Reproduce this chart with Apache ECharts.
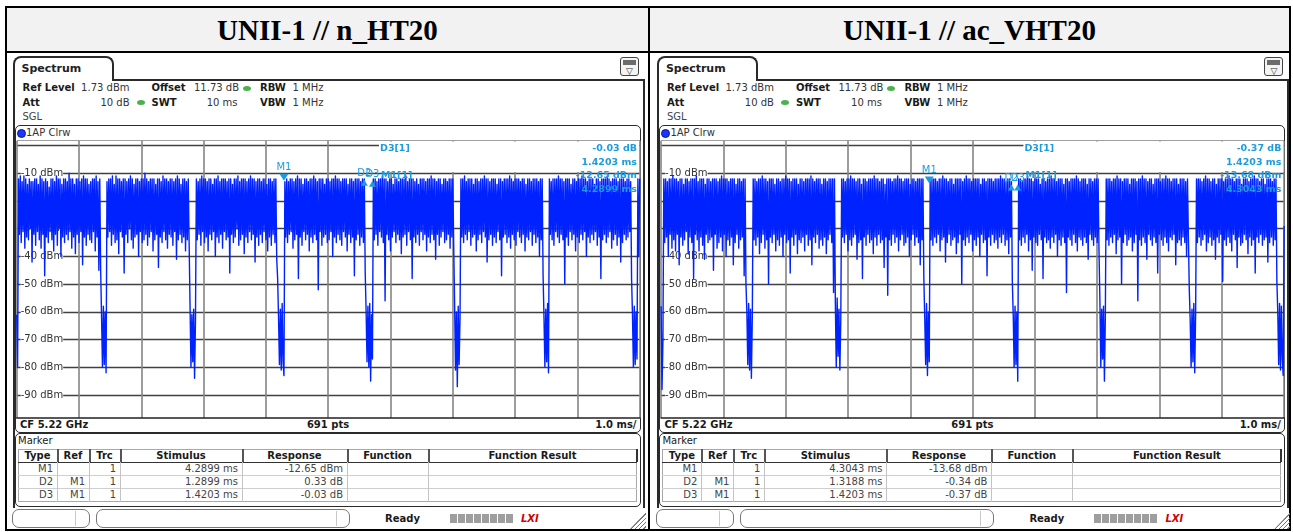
<!DOCTYPE html>
<html><head><meta charset="utf-8">
<script src="https://cdn.jsdelivr.net/npm/echarts@6/dist/echarts.min.js"></script>
<style>
html,body{margin:0;padding:0;background:#fff;width:1293px;height:532px;overflow:hidden;font-family:"DejaVu Sans",sans-serif;}
#page{position:relative;width:1293px;height:532px;}
#page div{position:absolute;box-sizing:border-box;}
.t{white-space:nowrap;height:14px;line-height:14px;font-size:10px;color:#222;}
.b{font-weight:bold;}
</style></head><body>
<div id="page"><div id="chart" style="left:0;top:0;width:1293px;height:532px;z-index:5"></div></div>
<script>
// ---------------- data ----------------
const TITLES = ['UNII-1 // n_HT20', 'UNII-1 // ac_VHT20'];
const SWEEP_MS = 10;          // SWT 10 ms
const REF_LEVEL = 1.73;       // dBm
const RANGE_DB = 100;
const Y_GRID = [0, -10, -20, -30, -40, -50, -60, -70, -80, -90];
const Y_LABELS = [-10, -20, -30, -40, -50, -60, -70, -80, -90];
const MARKER_COLS = ['Type', 'Ref', 'Trc', 'Stimulus', 'Response', 'Function', 'Function Result'];
const HT20_MARKER_ROWS = [['M1', '', '1', '4.2899 ms', '-12.65 dBm'], ['D2', 'M1', '1', '1.2899 ms', '0.33 dB'], ['D3', 'M1', '1', '1.4203 ms', '-0.03 dB']];
const VHT20_MARKER_ROWS = [['M1', '', '1', '4.3043 ms', '-13.68 dBm'], ['D2', 'M1', '1', '1.3188 ms', '-0.34 dB'], ['D3', 'M1', '1', '1.4203 ms', '-0.37 dB']];
const HT20_MARKER_T = [4.2899, 1.2899, 1.4203];   // M1 absolute, D2/D3 relative (ms)
const HT20_MARKER_V = [-12.65, 0.33, -0.03];      // M1 dBm, D2/D3 relative dB
const VHT20_MARKER_T = [4.3043, 1.3188, 1.4203];
const VHT20_MARKER_V = [-13.68, -0.34, -0.37];

// n_HT20 trace (691 pts) by segment
const ht20_off0 = [-61,-80];
const ht20_b1 = [
-12,-32,-11,-35,-13,-31,-11,-37,-12,-33, -14,-34,-12,-30,-13,-42,-13,-32,-12,-36,
-12,-31,-14,-34,-11,-37,-12,-32,-13,-47, -12,-33,-13,-35,-15,-31,-12,-34,-12,-38,
-13,-32,-11,-36,-12,-30,-12,-40,-14,-33, -12,-35,-12,-32,-13,-34,-10,-31,-12,-37,
-12,-33,-14,-39,-12,-32,-12,-35,-13,-31, -12,-43,-11,-33,-12,-36,-12,-32,-14,-34,
-13,-35,-12,-31,-12,-38,-11,-33,-13,-45, -12];
const ht20_g1 = [-45,-62,-80,-58,-79,-60,-82];
const ht20_b2 = [
-13,-33,-12,-31,-12,-36,-11,-32,-14,-35, -11,-34,-12,-39,-12,-31,-13,-33,-12,-46,
-12,-32,-13,-35,-12,-30,-11,-34,-12,-37, -14,-33,-12,-32,-12,-40,-13,-31,-12,-35,
-12,-34,-10,-32,-12,-36,-13,-33,-12,-31, -12,-38,-12,-34,-14,-32,-12,-44,-12,-33,
-13,-35,-11,-31,-12,-34,-12,-37,-13,-32, -12,-33,-12,-36,-13,-31,-12,-41,-11,-34,
-12,-32,-14,-35,-12,-33,-12,-38,-13,-34, -12,-36];
const ht20_g2 = [-58,-80,-61,-78,-59,-84,-63];
const ht20_b3 = [
-12,-34,-13,-32,-12,-36,-11,-31,-12,-35, -12,-33,-13,-38,-12,-32,-12,-34,-14,-31,
-12,-40,-12,-33,-11,-35,-13,-32,-12,-37, -12,-31,-12,-34,-13,-33,-12,-46,-12,-32,
-14,-35,-12,-33,-12,-30,-11,-36,-13,-34, -12,-32,-12,-39,-12,-33,-13,-35,-12,-31,
-11,-34,-12,-32,-12,-42,-13,-33,-12,-36, -12,-32,-13,-35,-12,-31,-12,-34,-14,-38,
-12,-33,-12,-36,-13,-32,-12,-35,-12,-41];
const ht20_g3 = [-48,-62,-79,-59,-81,-57,-78,-83];
const ht20_b4 = [
-13,-33,-12,-35,-13,-32,-12,-31,-12,-37, -13,-34,-12,-32,-11,-48,-12,-33,-12,-36,
-14,-31,-12,-34,-12,-32,-13,-38,-12,-33, -12,-35,-11,-32,-12,-34,-13,-52,-12,-31,
-12,-36,-12,-33,-14,-32,-12,-35,-12,-34, -13,-31,-12,-40,-12,-33,-11,-35,-12,-32,
-12,-34,-13,-36,-12,-31,-12,-33,-12,-38, -14,-32,-12,-35,-12,-33,-13,-47,-12,-34,
-12,-32,-12,-36,-13,-33,-12,-35,-12];
const ht20_g4 = [-46,-60,-78,-58,-80,-57,-85,-61,-77];
const ht20_b5 = [
-12,-34,-12,-32,-13,-36,-12,-31,-12,-33, -11,-35,-12,-56,-12,-32,-13,-34,-12,-38,
-12,-33,-14,-31,-12,-35,-12,-32,-13,-34, -12,-39,-12,-33,-12,-32,-11,-36,-13,-31,
-12,-34,-12,-48,-12,-33,-13,-35,-12,-32, -14,-36,-12,-31,-12,-34,-12,-32,-13,-38,
-12,-33,-12,-35,-11,-32,-12,-34,-12,-41, -13,-32,-12,-36,-12,-33,-14,-31,-12,-35,
-12,-34,-13,-32,-12,-37,-12,-33,-12,-36];
const ht20_g5 = [-57,-81,-60,-87,-58,-79,-62];
const ht20_b6 = [
-12,-33,-12,-35,-11,-32,-13,-34,-12,-31, -12,-36,-12,-33,-14,-32,-12,-38,-12,-34,
-13,-32,-12,-35,-12,-31,-11,-33,-12,-42, -12,-34,-13,-32,-12,-36,-12,-33,-12,-35,
-14,-31,-12,-34,-12,-47,-13,-33,-12,-32, -12,-35,-12,-33,-11,-37,-12,-32,-13,-34,
-12,-36,-12,-31,-12,-33,-13,-35,-12,-32, -12,-38,-14,-33,-12,-34,-12,-31,-13,-36,
-12,-32,-12,-35,-12,-33,-13,-40,-12,-34, -12];
const ht20_g6 = [-47,-62,-80,-59,-78,-57,-82];
const ht20_b7 = [
-12,-32,-13,-34,-12,-36,-12,-31,-12,-33, -11,-35,-12,-32,-12,-34,-13,-50,-12,-33,
-12,-36,-12,-31,-14,-34,-12,-32,-12,-38, -13,-33,-12,-35,-12,-32,-11,-34,-12,-31,
-12,-40,-13,-33,-12,-35,-12,-32,-12,-34, -14,-31,-12,-36,-12,-33,-13,-48,-12,-34,
-12,-32,-12,-35,-11,-33,-12,-31,-13,-37, -12,-34,-12,-32,-12,-36,-13,-33,-12,-42,
-12,-35,-12,-32,-13,-34,-12,-33,-12,-31, -13];
const ht20_g7 = [-48,-61,-80,-58,-79,-60,-77];
const ht20_b8 = [-12,-40,-12];

// ac_VHT20 trace (691 pts) by segment
const vht20_off0 = [-58,-88,-71];
const vht20_b1 = [
-12,-35,-12,-33,-13,-40,-12,-32,-12,-37, -11,-34,-12,-38,-12,-32,-13,-43,-12,-33,
-12,-36,-14,-34,-12,-31,-12,-39,-13,-33, -12,-35,-12,-48,-12,-32,-11,-34,-13,-38,
-12,-33,-12,-36,-12,-41,-14,-32,-12,-35, -12,-34,-13,-33,-12,-45,-12,-32,-12,-37,
-13,-35,-12,-33,-11,-38,-12,-32,-12,-40, -12,-34,-13,-36,-12,-33,-12,-43,-12,-35,
-14,-32,-12,-37,-12,-34,-13,-33,-12,-47, -12];
const vht20_g1 = [-50,-60,-79,-57,-81,-59,-84,-62];
const vht20_b2 = [
-12,-34,-12,-36,-13,-33,-12,-39,-12,-35, -11,-32,-12,-37,-12,-34,-13,-50,-12,-33,
-12,-35,-12,-32,-14,-38,-12,-34,-12,-36, -13,-33,-12,-40,-12,-32,-11,-35,-12,-34,
-12,-46,-13,-33,-12,-36,-12,-32,-12,-39, -14,-34,-12,-35,-12,-33,-13,-38,-12,-32,
-12,-36,-12,-34,-11,-43,-12,-33,-13,-35, -12,-32,-12,-37,-12,-34,-14,-36,-12,-33,
-12,-39,-13,-34,-12,-32,-12,-35,-12,-53, -12];
const vht20_g2 = [-57,-80,-55,-76,-59,-81,-63];
const vht20_b3 = [
-12,-33,-12,-35,-13,-32,-12,-38,-12,-34, -11,-36,-12,-33,-12,-32,-13,-41,-12,-35,
-12,-34,-14,-48,-12,-33,-12,-36,-13,-32, -12,-35,-12,-34,-12,-39,-11,-33,-12,-36,
-12,-32,-13,-35,-12,-34,-12,-44,-14,-33, -12,-54,-12,-34,-12,-36,-13,-32,-12,-35,
-12,-33,-11,-38,-12,-34,-12,-32,-13,-36, -12,-35,-12,-33,-12,-40,-14,-34,-12,-32,
-12,-36,-13,-33,-12,-35,-12,-43,-12,-34, -12];
const vht20_g3 = [-48,-62,-79,-57,-83,-60,-78];
const vht20_b4 = [
-13,-34,-12,-36,-12,-33,-12,-35,-13,-32, -12,-38,-12,-34,-11,-33,-12,-42,-12,-35,
-13,-32,-12,-36,-12,-34,-14,-33,-12,-39, -12,-35,-12,-32,-12,-50,-13,-34,-12,-36,
-11,-33,-12,-35,-12,-32,-13,-38,-12,-34, -12,-36,-12,-33,-12,-40,-14,-32,-12,-35,
-12,-34,-13,-47,-12,-33,-12,-36,-12,-32, -13,-35,-12,-34,-12,-37,-12,-33,-11,-35,
-12,-32,-12,-36,-13,-34,-12,-39,-12,-33, -13];
const vht20_g4 = [-49,-61,-80,-58,-79,-60,-85];
const vht20_b5 = [
-12,-34,-12,-36,-13,-33,-12,-35,-12,-32, -11,-38,-12,-34,-12,-45,-13,-33,-12,-35,
-12,-36,-12,-32,-14,-34,-12,-48,-12,-33, -13,-35,-12,-34,-12,-37,-11,-33,-12,-35,
-12,-32,-13,-40,-12,-34,-12,-36,-12,-33, -14,-35,-12,-53,-12,-33,-13,-34,-12,-36,
-12,-32,-12,-35,-11,-38,-12,-33,-13,-34, -12,-36,-12,-33,-12,-35,-14,-41,-12,-32,
-12,-34,-13,-36,-12,-33,-12,-35,-12,-38];
const vht20_g5 = [-56,-80,-59,-77,-58,-85,-62];
const vht20_b6 = [
-12,-34,-12,-36,-12,-33,-13,-35,-12,-32, -12,-39,-11,-34,-12,-33,-12,-50,-13,-35,
-12,-32,-12,-36,-12,-34,-14,-33,-12,-38, -12,-35,-12,-32,-13,-56,-12,-34,-12,-36,
-11,-33,-12,-35,-12,-41,-13,-32,-12,-34, -12,-36,-14,-33,-12,-35,-12,-46,-12,-32,
-13,-34,-12,-36,-12,-33,-11,-35,-12,-38, -12,-33,-13,-34,-12,-32,-12,-43,-12,-35,
-14,-34,-12,-36,-12,-33,-12,-35,-13,-40, -12,-33];
const vht20_g6 = [-52,-63,-80,-59,-78,-57,-82,-61];
const vht20_b7 = [
-12,-35,-12,-33,-12,-36,-13,-34,-12,-32, -11,-38,-12,-35,-12,-33,-13,-36,-12,-34,
-12,-41,-14,-33,-12,-35,-12,-32,-12,-49, -13,-34,-12,-36,-12,-33,-11,-35,-12,-38,
-12,-32,-13,-34,-12,-44,-12,-33,-12,-36, -14,-35,-12,-32,-12,-34,-12,-39,-13,-33,
-12,-36,-12,-34,-11,-46,-12,-33,-12,-35, -13,-32,-12,-36,-12,-34,-14,-33,-12,-42,
-12,-35,-12,-33,-13,-36,-12,-34,-12];
const vht20_g7 = [-49,-60,-79,-57,-81,-58,-77,-83];
const vht20_b8 = [-29];

const HT20_TRACE = [].concat(ht20_off0, ht20_b1, ht20_g1, ht20_b2, ht20_g2, ht20_b3, ht20_g3, ht20_b4, ht20_g4, ht20_b5, ht20_g5, ht20_b6, ht20_g6, ht20_b7, ht20_g7, ht20_b8);
const VHT20_TRACE = [].concat(vht20_off0, vht20_b1, vht20_g1, vht20_b2, vht20_g2, vht20_b3, vht20_g3, vht20_b4, vht20_g4, vht20_b5, vht20_g5, vht20_b6, vht20_g6, vht20_b7, vht20_g7, vht20_b8);

// ---------------- static instrument frame (HTML) ----------------
const page = document.getElementById('page');
function box(x, y, w, h, css) { const d = document.createElement('div'); d.style.cssText = `left:${x}px;top:${y}px;width:${w}px;height:${h}px;` + (css || ''); page.appendChild(d); return d; }
function txt(s, x, yc, opt) {
  opt = opt || {};
  const d = document.createElement('div'); d.className = 't' + (opt.bold ? ' b' : ''); d.textContent = s;
  d.style.top = (yc - 7) + 'px';
  if (opt.size) d.style.fontSize = opt.size + 'px';
  if (opt.color) d.style.color = opt.color;
  if (opt.align === 'right') { d.style.left = (x - 300) + 'px'; d.style.width = '300px'; d.style.textAlign = 'right'; }
  else if (opt.align === 'center') { d.style.left = (x - 150) + 'px'; d.style.width = '300px'; d.style.textAlign = 'center'; }
  else d.style.left = x + 'px';
  page.appendChild(d); return d;
}

// outer table
box(5, 6, 1286, 525, 'border:2px solid #000;');
box(7, 8, 1282, 43, 'background:#f2f2f2;');
box(5, 51, 1286, 2, 'background:#000;');
box(648, 6, 2, 525, 'background:#000;');

const OX = [0, 644.4];
const CYAN = '#1c9cde';

function panel(p) {
  const ox = OX[p];
  const tdiv = box(p === 0 ? 7 : 650, 8, p === 0 ? 641 : 639, 43, 'text-align:center;line-height:45px;font-family:"Liberation Serif","Times New Roman",serif;font-weight:bold;font-size:29px;color:#000;');
  tdiv.textContent = TITLES[p];
  box(ox + 12.5, 56, 101, 25, 'border:2px solid #2a2a2a;border-bottom:none;border-radius:8px 8px 0 0;background:#fff;');
  txt('Spectrum', ox + 21.5, 68.5, {bold: true, size: 11});
  box(ox + 113, 79, 531, 2, 'background:#2a2a2a;');
  box(ox + 12.5, 80, 2, 428, 'background:#2a2a2a;');
  box(ox + 643, 79, 2, 429, 'background:#2a2a2a;');
  box(ox + 620, 57, 19, 19, 'border:1px solid #444;border-radius:3px;background:#f4f4f4;');
  box(ox + 623, 60, 13, 5, 'background:#6b6b6b;');
  txt('\u25BD', ox + 629.5, 70.5, {align: 'center', size: 9, color: '#333'});
  const C = '#1a1a1a', V = '#333';
  txt('Ref Level', ox + 22.5, 88, {bold: true, color: C});
  txt('1.73 dBm', ox + 129.5, 88, {align: 'right', color: V});
  txt('Offset', ox + 151.5, 88, {bold: true, color: C});
  txt('11.73 dB', ox + 239, 88, {align: 'right', color: V});
  txt('RBW', ox + 260, 88, {bold: true, color: C});
  txt('1 MHz', ox + 292.5, 88, {color: V});
  txt('Att', ox + 22.5, 102.5, {bold: true, color: C});
  txt('10 dB', ox + 129.5, 102.5, {align: 'right', color: V});
  txt('SWT', ox + 151.5, 102.5, {bold: true, color: C});
  txt('10 ms', ox + 237.5, 102.5, {align: 'right', color: V});
  txt('VBW', ox + 260, 102.5, {bold: true, color: C});
  txt('1 MHz', ox + 292.5, 102.5, {color: V});
  txt('SGL', ox + 22.5, 117, {color: '#444'});
  box(ox + 243, 85.5, 8, 5, 'background:#4cb04c;border-radius:50%;');
  box(ox + 137, 100, 8, 5, 'background:#4cb04c;border-radius:50%;');
  box(ox + 15, 124.5, 626, 308, 'border:1.5px solid #2a2a2a;border-radius:5px;background:#fff;');
  box(ox + 16.5, 140.3, 623, 1, 'background:#a0a0a0;');
  box(ox + 16.5, 128.5, 9, 9, 'background:#1a36ff;border-radius:50%;border:1px solid #0a1a90;');
  txt('1AP Clrw', ox + 26, 133, {color: '#333'});
  txt('CF 5.22 GHz', ox + 20, 425, {bold: true, color: C});
  txt('691 pts', ox + 328, 425, {bold: true, align: 'center', color: C});
  txt('1.0 ms/', ox + 636.5, 425, {bold: true, align: 'right', color: C});
  box(ox + 15, 433, 626, 74, 'border:1.5px solid #2a2a2a;border-radius:5px;background:#fff;');
  txt('Marker', ox + 18, 441, {color: C});
  const COLX = [18, 57, 89, 120, 242, 347, 428, 637];
  const top = 449, rh = 13;
  box(ox + COLX[0], top, COLX[7] - COLX[0], rh * 4 + 1, 'border:1px solid #a8a8a8;');
  box(ox + COLX[0], top + rh - 0.5, COLX[7] - COLX[0], 1.5, 'background:#333;');
  box(ox + COLX[7] - 1, top, 1.5, rh, 'background:#333;');
  for (let r = 1; r < 3; r++) box(ox + COLX[0], top + rh * (r + 1), COLX[7] - COLX[0], 1, 'background:#cfcfcf;');
  for (let c = 1; c < 7; c++) {
    box(ox + COLX[c], top, 1.5, rh, 'background:#555;');
    box(ox + COLX[c], top + rh, 1, rh * 3 + 1, 'background:#c4c4c4;');
  }
  MARKER_COLS.forEach((h, c) => txt(h, ox + (COLX[c] + COLX[c + 1]) / 2, top + rh / 2 + 0.5, {bold: true, align: 'center', color: C}));
  const rows = p === 0 ? HT20_MARKER_ROWS : VHT20_MARKER_ROWS;
  rows.forEach((row, r) => row.forEach((cell, c) => { if (cell) txt(cell, ox + COLX[c + 1] - 4, top + rh * (r + 1) + rh / 2 + 0.5, {align: 'right', color: '#444'}); }));
  box(ox + 12, 509, 78, 19, 'border:1px solid #777;border-radius:7px;');
  box(ox + 75, 511, 1, 15, 'background:#c8c8c8;');
  box(ox + 96, 509, 254, 19, 'border:1px solid #777;border-radius:7px;');
  box(ox + 336, 511, 1, 15, 'background:#c8c8c8;');
  txt('Ready', ox + 385, 518.5, {bold: true, color: C});
  for (let i = 0; i < 8; i++) box(ox + 450 + i * 8, 514, 7, 9, 'background:#9e9e9e;');
  txt('LXI', ox + 521, 518.5, {bold: true, color: '#d40000', size: 10}).style.fontStyle = 'italic';
  box(ox + 630, 512, 16, 17, 'background:repeating-linear-gradient(135deg,#777 0 1px,transparent 1px 3px);clip-path:polygon(100% 0,100% 100%,0 100%);');
}
panel(0); panel(1);

// ---------------- chart ----------------
const chart = echarts.init(document.getElementById('chart'), null, {renderer: 'canvas'});
const yMin = REF_LEVEL - RANGE_DB, yMax = REF_LEVEL;
function toPairs(arr) { return arr.map((v, i) => [i * SWEEP_MS / (arr.length - 1), v]); }
const GRIDS = [{left: 16.7, top: 140.8, width: 623, height: 277.1}, {left: 661.1, top: 140.8, width: 623, height: 277.1}];
const xAxes = [], yAxes = [], series = [], graphics = [];
const traces = [HT20_TRACE, VHT20_TRACE];
const mT = [HT20_MARKER_T, VHT20_MARKER_T], mV = [HT20_MARKER_V, VHT20_MARKER_V];
const FONT = '"DejaVu Sans", sans-serif';
for (let p = 0; p < 2; p++) {
  xAxes.push({type: 'value', gridIndex: p, min: 0, max: SWEEP_MS, interval: 1, axisLabel: {show: false}, axisTick: {show: false},
    axisLine: {show: true, onZero: false, lineStyle: {color: '#222', width: 1.5}}, splitLine: {show: true, lineStyle: {color: '#858585', width: 1.6}}, z: 0});
  yAxes.push({type: 'value', gridIndex: p, position: 'left', min: yMin, max: yMax, axisLine: {show: false}, axisTick: {show: false, customValues: Y_GRID},
    axisLabel: {show: false}, splitLine: {show: true, lineStyle: {color: '#404040', width: 1.4}}, z: 0});
  yAxes.push({type: 'value', gridIndex: p, position: 'left', min: yMin, max: yMax, axisLine: {show: false}, axisTick: {show: false, customValues: Y_LABELS},
    splitLine: {show: false}, z: 1,
    axisLabel: {show: true, inside: true, margin: 4, customValues: Y_LABELS, formatter: v => v + ' dBm', color: '#333', fontSize: 10, fontFamily: FONT, backgroundColor: '#fff', padding: [0, 0, 0, 0]}});
  const t = mT[p], v = mV[p];
  const cy = CYAN;
  series.push({type: 'line', xAxisIndex: p, yAxisIndex: p * 2, data: toPairs(traces[p]), showSymbol: false, symbol: 'none', animation: false, silent: true, z: 2,
    sampling: null, smooth: false, lineStyle: {color: '#0022ff', width: 1.4, join: 'round'}, emphasis: {disabled: true},
    markPoint: {animation: false, silent: true, itemStyle: {color: cy}, label: {show: true, color: cy, fontSize: 10, fontFamily: FONT},
      data: [
        {name: 'M1', coord: [t[0], v[0]], symbol: 'path://M0,0L10,0L5,8Z', symbolSize: [9, 7], symbolOffset: [0, -3.5], label: {formatter: 'M1', position: 'top', distance: 1}},
        {name: 'D2', coord: [t[0] + t[1], v[0] + v[1]], symbol: 'path://M5,0L10,8L0,8Z', symbolSize: [7, 6], symbolOffset: [0, 3], label: {formatter: 'D2', position: 'top', distance: 1}},
        {name: 'D3', coord: [t[0] + t[2], v[0] + v[2]], symbol: 'path://M5,0L10,8L0,8Z', symbolSize: [7, 6], symbolOffset: [0, 3], label: {formatter: 'D3', position: 'top', distance: 1}}
      ]}});
  const ox = OX[p];
  const rows = p === 0 ? HT20_MARKER_ROWS : VHT20_MARKER_ROWS;
  graphics.push({type: 'rect', z: 1, shape: {x: ox + 379, y: 141.5, width: 260, height: 30.5}, style: {fill: '#fff'}});
  const tf = {fontSize: 9.5, fontWeight: 'bold', fontFamily: FONT, fill: CYAN, verticalAlign: 'middle'};
  graphics.push({type: 'text', z: 10, x: ox + 380, y: 148.5, style: Object.assign({text: 'D3[1]', align: 'left'}, tf)});
  graphics.push({type: 'text', z: 10, x: ox + 637, y: 148.5, style: Object.assign({text: rows[2][4], align: 'right'}, tf)});
  graphics.push({type: 'text', z: 10, x: ox + 637, y: 162.3, style: Object.assign({text: rows[2][3], align: 'right'}, tf)});
  graphics.push({type: 'text', z: 10, x: ox + 381, y: 175.8, style: Object.assign({text: 'M1[1]', align: 'left'}, tf)});
  graphics.push({type: 'text', z: 10, x: ox + 637, y: 175.8, style: Object.assign({text: rows[0][4], align: 'right'}, tf)});
  graphics.push({type: 'text', z: 10, x: ox + 637, y: 189.8, style: Object.assign({text: rows[0][3], align: 'right'}, tf)});
}
chart.setOption({animation: false, backgroundColor: 'transparent', grid: GRIDS, xAxis: xAxes, yAxis: yAxes, series: series, graphic: {elements: graphics}});
</script>
</body></html>
